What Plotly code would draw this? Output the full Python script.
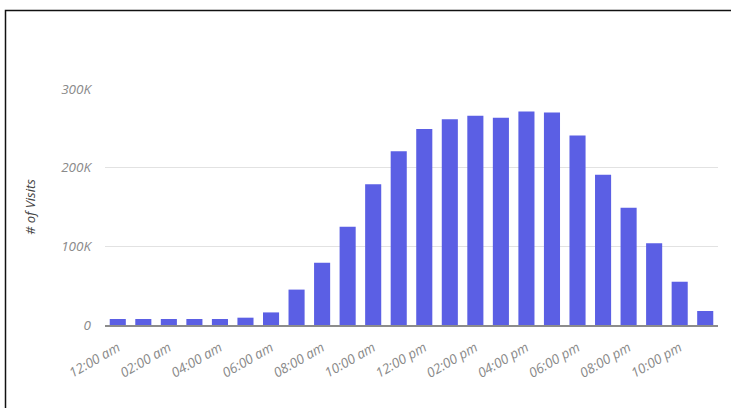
import plotly.graph_objects as go

hours = ["12:00 am", "01:00 am", "02:00 am", "03:00 am", "04:00 am", "05:00 am",
         "06:00 am", "07:00 am", "08:00 am", "09:00 am", "10:00 am", "11:00 am",
         "12:00 pm", "01:00 pm", "02:00 pm", "03:00 pm", "04:00 pm", "05:00 pm",
         "06:00 pm", "07:00 pm", "08:00 pm", "09:00 pm", "10:00 pm", "11:00 pm"]
visits = [7600, 7600, 7600, 7600, 7600, 9300, 16000, 45000, 79000, 125000, 179000, 221000,
          249000, 261500, 266000, 263500, 271500, 270000, 241000, 191000, 149000, 104000,
          55000, 17800]
x_tick_labels = hours[::2]
y_tick_vals = [0, 100000, 200000, 300000]
y_tick_labels = ["0", "100K", "200K", "300K"]

W, H = 731, 408
L, R, T, B = 105, 13, 89, 83
pw, ph = W - L - R, H - T - B

def px(x):
    return (x - L) / pw

def py(y):
    return (H - B - y) / ph

fig = go.Figure(go.Bar(x=hours, y=visits, marker=dict(color="#5b5fe4", line=dict(width=0)),
                       hoverinfo="x+y"))

fig.update_layout(
    width=W, height=H,
    margin=dict(l=L, r=R, t=T, b=B),
    paper_bgcolor="white", plot_bgcolor="white",
    bargap=0.37,
    showlegend=False,
    font=dict(family="Open Sans", color="#888888"),
    xaxis=dict(
        type="category",
        tickmode="array", tickvals=x_tick_labels, ticktext=x_tick_labels,
        tickangle=-30,
        tickfont=dict(family="Open Sans", size=13.5, color="#8a8a8a", style="italic"),
        showgrid=False, showline=True, linecolor="#8c8c8c", linewidth=1.5,
        ticks="", zeroline=False, ticklabelstandoff=8,
    ),
    yaxis=dict(
        range=[0, 300000],
        tickmode="array", tickvals=y_tick_vals, ticktext=y_tick_labels,
        tickfont=dict(family="Open Sans", size=13.5, color="#8a8a8a", style="italic"),
        showgrid=True, gridcolor="#e2e2e2", gridwidth=1,
        zeroline=False, ticks="", ticklabelstandoff=13,
        title=dict(text="# of Visits", standoff=22,
                   font=dict(family="Open Sans", size=13, color="#444444", style="italic")),
    ),
    shapes=[dict(type="path", xref="paper", yref="paper",
                 path=f"M {px(5.5)} {py(410)} L {px(5.5)} {py(10.5)} L {px(733)} {py(10.5)}",
                 line=dict(color="#111111", width=1.5))],
)

fig.write_html("out.html", config={"displayModeBar": False},
               post_script="document.body.style.margin='0';")
